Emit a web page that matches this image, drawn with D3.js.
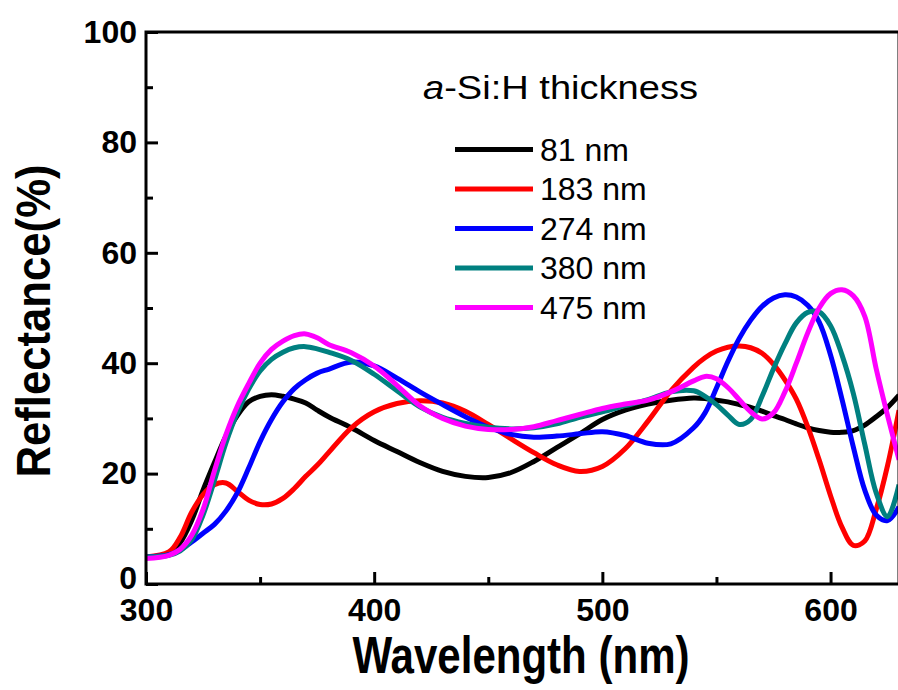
<!DOCTYPE html>
<html>
<head>
<meta charset="utf-8">
<script src="https://cdn.jsdelivr.net/npm/d3@7"></script>
<style>
    html, body { margin: 0; padding: 0; background: #fff; }
    svg { display: block; }
    text { font-family: "Liberation Sans", Arial, sans-serif; fill: #000; }
</style>
</head>
<body>
<div id="chart"></div>
<script>
/**
 * Wavelength samples (nm) shared by all series.
 * @type Array
 */
var WAVELENGTHS = [300, 310, 315, 320, 325, 330, 335, 340, 345, 350,
                   355, 360, 365, 370, 375, 380, 390, 400, 410, 420,
                   430, 440, 450, 460, 470, 480, 490, 500, 510, 520,
                   530, 540, 545, 550, 555, 560, 565, 570, 575, 580,
                   585, 590, 595, 600, 605, 610, 615, 620, 625, 630];

// reflectance (%) per a-Si:H thickness
var R_81 = [4.8, 5.5, 7.5, 11.5, 17, 22, 26.8, 30.5, 33, 34,
            34.3, 34, 33.5, 32.8, 31.5, 30.3, 28.3, 26, 24, 22,
            20.4, 19.5, 19.3, 20.2, 22.2, 24.7, 27.2, 29.8, 31.5, 32.6,
            33.3, 33.7, 33.6, 33.3, 33, 32.5, 32, 31.3, 30.5, 29.8,
            29, 28.3, 27.8, 27.5, 27.5, 27.8, 28.8, 30.3, 32, 34.2];
var R_183 = [4.9, 5.8, 8.5, 13, 16.2, 18, 18.3, 16.8, 15.2, 14.4,
             14.5, 15.5, 17.3, 19.5, 21.5, 23.8, 28.3, 31.2, 32.7, 33.2,
             32.8, 31.3, 28.9, 26.3, 23.8, 21.6, 20.4, 21.3, 24.5, 29.5,
             35, 39.3, 41, 42.2, 42.9, 43.1, 42.8, 41.8, 39.8, 37,
             33.5, 28.5, 22.5, 16, 10.3, 7.0, 7.8, 13.5, 21.5, 31.5];
var R_274 = [4.9, 5.3, 6.2, 7.6, 9.2, 10.8, 13.2, 16.5, 21, 25.8,
             29.8, 33, 35.4, 37, 38.2, 38.9, 40.2, 39.5, 37.3, 34.8,
             32.5, 30.3, 28.4, 27.1, 26.6, 26.8, 27.2, 27.6, 26.9, 25.5,
             25.4, 28.3, 31, 35.5, 40.3, 44.5, 47.8, 50.3, 51.8, 52.4,
             52.0, 50.5, 47.5, 41.5, 33.5, 24.8, 17, 12.5, 11.5, 14];
var R_380 = [4.9, 5.2, 6, 8, 12.5, 18.8, 25.5, 31, 35.3, 38.6,
             40.7, 42, 42.8, 43, 42.6, 42, 40.5, 38, 35, 32.1,
             30.2, 29.1, 28.4, 28.1, 28.3, 29, 30.2, 31.2, 32.3, 33.4,
             34.8, 35, 34, 32.5, 30.6, 28.9, 29.8, 34, 39, 43.5,
             47.3, 49.2, 49.3, 46.8, 41.5, 34.5, 25.3, 16.5, 12.2, 18];
var R_475 = [4.6, 5.2, 6.3, 8.8, 13.5, 20.5, 27, 32.2, 36.3, 40,
             42.5, 44, 45, 45.3, 44.6, 43.4, 41.9, 39.5, 36, 32.3,
             30, 28.6, 28, 28, 28.5, 29.6, 30.7, 31.8, 32.6, 33.3,
             34.8, 36.8, 37.6, 37.2, 35.6, 33.4, 31.2, 29.9, 31.0, 34.8,
             40, 45.5, 50, 52.6, 53.3, 52.2, 48.5, 39, 30.5, 22.5];

var SERIES_LABELS = ['81 nm', '183 nm', '274 nm', '380 nm', '475 nm'];
var SERIES_VALUES = [R_81, R_183, R_274, R_380, R_475];
var SERIES_COLORS = ['#000000', '#ff0000', '#0000ff', '#008080', '#ff00ff'];

var X_TICKS = [300, 400, 500, 600];
var X_MINOR = [350, 450, 550];
var Y_TICKS = [0, 20, 40, 60, 80, 100];
var Y_MINOR = [10, 30, 50, 70, 90];

var WIDTH = 898, HEIGHT = 690;
var PLOT = { left: 146, right: 899, top: 32, bottom: 584 };

var svg = d3.select('#chart').append('svg')
    .attr('width', WIDTH)
    .attr('height', HEIGHT);

var x = d3.scaleLinear().domain([300, 630]).range([PLOT.left, PLOT.right]);
var y = d3.scaleLinear().domain([0, 100]).range([PLOT.bottom, PLOT.top]);

svg.append('clipPath').attr('id', 'plot-clip')
    .append('rect')
    .attr('x', PLOT.left).attr('y', PLOT.top)
    .attr('width', PLOT.right - PLOT.left)
    .attr('height', PLOT.bottom - PLOT.top);

// curves
var line = d3.line()
    .x(function(d) { return x(d[0]); })
    .y(function(d) { return y(d[1]); })
    .curve(d3.curveCatmullRom.alpha(0.5));

var curves = svg.append('g').attr('clip-path', 'url(#plot-clip)');
SERIES_VALUES.forEach(function(vals, i) {
    var pts = WAVELENGTHS.map(function(w, j) { return [w, vals[j]]; });
    curves.append('path')
        .datum(pts)
        .attr('d', line)
        .attr('fill', 'none')
        .attr('stroke', SERIES_COLORS[i])
        .attr('stroke-width', 5)
        .attr('stroke-linejoin', 'round');
});

// axes: ticks point inward like the original
function styleAxis(g) {
    g.select('.domain').remove();
    g.selectAll('.tick line').attr('stroke', '#000').attr('stroke-width', 3);
    g.selectAll('.tick text')
        .style('font-family', '"Liberation Sans", Arial, sans-serif')
        .style('font-weight', 'bold')
        .style('font-size', '32px')
        .attr('fill', '#000');
}

svg.append('g')
    .attr('transform', 'translate(0,' + PLOT.bottom + ')')
    .call(d3.axisBottom(x).tickValues(X_TICKS).tickSize(-12).tickPadding(14))
    .call(styleAxis);
svg.append('g')
    .attr('transform', 'translate(0,' + PLOT.bottom + ')')
    .call(d3.axisBottom(x).tickValues(X_MINOR).tickSize(-7).tickFormat(''))
    .call(styleAxis);
var yAxis = svg.append('g')
    .attr('transform', 'translate(' + PLOT.left + ',0)')
    .call(d3.axisLeft(y).tickValues(Y_TICKS).tickSize(-12).tickPadding(9))
    .call(styleAxis);
// the "0" sits a little higher in the original, clear of "300"
yAxis.selectAll('.tick text')
    .filter(function(d) { return d === 0; })
    .attr('y', -6);
svg.append('g')
    .attr('transform', 'translate(' + PLOT.left + ',0)')
    .call(d3.axisLeft(y).tickValues(Y_MINOR).tickSize(-7).tickFormat(''))
    .call(styleAxis);

// frame
svg.append('rect')
    .attr('x', PLOT.left).attr('y', PLOT.top)
    .attr('width', PLOT.right - PLOT.left)
    .attr('height', PLOT.bottom - PLOT.top)
    .attr('fill', 'none')
    .attr('stroke', '#000')
    .attr('stroke-width', 3);

// axis titles
svg.append('text')
    .attr('x', 521).attr('y', 673)
    .attr('text-anchor', 'middle')
    .attr('textLength', 337)
    .attr('lengthAdjust', 'spacingAndGlyphs')
    .style('font-weight', 'bold')
    .style('font-size', '52px')
    .text('Wavelength (nm)');

svg.append('text')
    .attr('transform', 'translate(50,321) rotate(-90)')
    .attr('text-anchor', 'middle')
    .attr('textLength', 313)
    .attr('lengthAdjust', 'spacingAndGlyphs')
    .style('font-weight', 'bold')
    .style('font-size', '49px')
    .text('Reflectance(%)');

// legend
var legendTitle = svg.append('text')
    .attr('x', 423).attr('y', 99)
    .attr('textLength', 275)
    .attr('lengthAdjust', 'spacingAndGlyphs')
    .style('font-size', '34px');
legendTitle.append('tspan').style('font-style', 'italic').text('a');
legendTitle.append('tspan').text('-Si:H thickness');

var legend = svg.append('g');
SERIES_LABELS.forEach(function(label, i) {
    var ly = 149.5 + i * 39.5;
    legend.append('line')
        .attr('x1', 455).attr('x2', 533)
        .attr('y1', ly).attr('y2', ly)
        .attr('stroke', SERIES_COLORS[i])
        .attr('stroke-width', 5);
    legend.append('text')
        .attr('x', 540).attr('y', ly + 11)
        .style('font-size', '32px')
        .text(label);
});
</script>
</body>
</html>
